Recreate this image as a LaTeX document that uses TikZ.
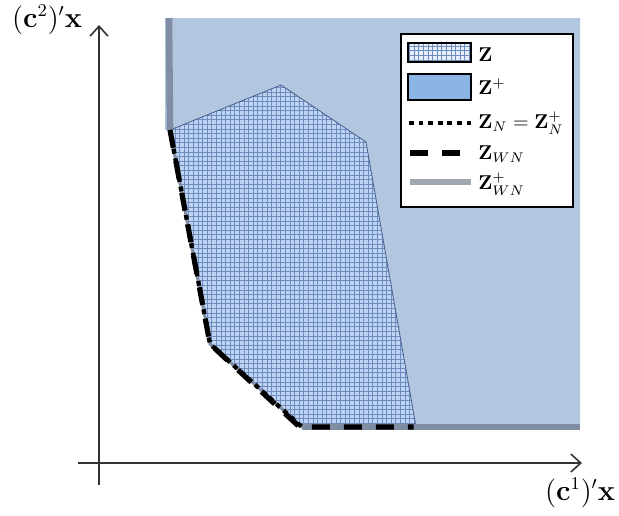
\documentclass[tikz,border=0pt]{standalone}
\usepackage{amsmath}
\usetikzlibrary{arrows.meta}
\definecolor{zplus}{RGB}{178,198,224}
\definecolor{zfill}{RGB}{190,212,242}
\definecolor{zgrid}{RGB}{110,140,190}
\definecolor{zedge}{RGB}{70,95,140}
\definecolor{wngray}{RGB}{128,142,165}
\definecolor{leggray}{RGB}{160,166,176}
\definecolor{legblue}{RGB}{140,180,228}
\tikzset{
  axisline/.style={line width=0.8pt, draw=black!80, -{Straight Barb[length=5pt,width=9pt]}},
  wnline/.style={line width=3.3pt, draw=wngray},
  dotline/.style={line width=2.2pt, draw=black, dash pattern=on 2.4pt off 2.4pt},
  dashline/.style={line width=2.6pt, draw=black, dash pattern=on 9pt off 7pt},
  legtext/.style={anchor=west, inner sep=0pt, font=\fontsize{9.6}{11}\selectfont},
  axlabel/.style={inner sep=0pt, font=\fontsize{13.5}{16}\selectfont},
}
\begin{document}
\begin{tikzpicture}[x=0.5pt,y=-0.5pt]
\useasboundingbox (0,0) rectangle (619,515);
% key points
\coordinate (T) at (169,18);
\coordinate (A) at (170,130);
\coordinate (B) at (281,85);
\coordinate (C) at (366,142);
\coordinate (D) at (416,427);
\coordinate (E) at (302,427);
\coordinate (F) at (210,344);
\coordinate (R) at (580,427);
\coordinate (RT) at (580,18);
% Z+ region
\fill[zplus] (165,18) -- (165,130) -- (A) -- (F) -- (E) -- (R) -- (RT) -- cycle;
% Z polygon
\fill[zfill] (A) -- (B) -- (C) -- (D) -- (E) -- (F) -- cycle;
\begin{scope}
\clip (A) -- (B) -- (C) -- (D) -- (E) -- (F) -- cycle;
\draw[zgrid, line width=0.3pt, step=2.3pt] (150,60) grid (430,440);
\end{scope}
\draw[zedge, line width=0.4pt] (A) -- (B) -- (C) -- (D) -- (E) -- (F) -- cycle;
% weakly nondominated of Z+
\draw[wnline] (T) -- (A);
\draw[wnline] (E) -- (R);
\draw[wngray, line width=1.5pt] (A) -- (F) -- (E);
% Z_WN
\draw[dashline, xshift=1.2pt] (A) -- (F) -- ([xshift=-1.2pt]E) -- ([xshift=-1.2pt]D);
% Z_N
\draw[dotline, xshift=-2.6pt] (A) -- (F) -- ([xshift=0.4pt, yshift=-0.4pt]E);
% axes
\coordinate (y0) at (99,485);
\coordinate (y1) at (99,25);
\coordinate (x0) at (78,463);
\coordinate (x1) at (582,463);
\draw[axisline] (y0) -- (y1);
\draw[axisline] (x0) -- (x1);
\node[axlabel] (ylab) at (47,20) {$(\mathbf{c}^2)'\mathbf{x}$};
\node[axlabel] (xlab) at (580,493) {$(\mathbf{c}^1)'\mathbf{x}$};
% legend
\draw[black, line width=0.6pt, fill=white] (401,34) rectangle (573,207);
\begin{scope}
\clip (408,43) rectangle (471,62);
\fill[zfill!40!white] (408,43) rectangle (471,62);
\draw[zgrid, line width=0.3pt, step=2.3pt] (400,30) grid (480,70);
\end{scope}
\draw[black, line width=0.6pt] (408,43) rectangle (471,62);
\node[legtext] (l1) at (478,55) {$\mathbf{Z}$};
\draw[black, line width=0.6pt, fill=legblue] (408,74) rectangle (471,100);
\node[legtext] (l2) at (478,87) {$\mathbf{Z}^{+}$};
\coordinate (d0) at (409,123);
\coordinate (d1) at (471,123);
\draw[dotline] (d0) -- (d1);
\node[legtext] (l3) at (478,123) {$\mathbf{Z}_N=\mathbf{Z}_N^{+}$};
\coordinate (e0) at (410,153);
\coordinate (e1) at (471,153);
\draw[black, line width=2.6pt, dash pattern=on 9pt off 7pt] (e0) -- (e1);
\node[legtext] (l4) at (478,154) {$\mathbf{Z}_{WN}$};
\coordinate (g0) at (410,182);
\coordinate (g1) at (471,182);
\draw[leggray, line width=3pt] (g0) -- (g1);
\node[legtext] (l5) at (478,184) {$\mathbf{Z}_{WN}^{+}$};
\end{tikzpicture}
\end{document}
